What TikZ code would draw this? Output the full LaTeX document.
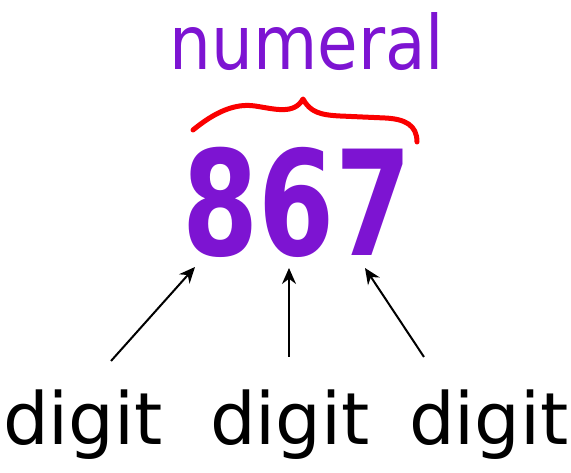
\documentclass[tikz,border=0pt]{standalone}
\usepackage{fontspec}
\setmainfont{DejaVu Sans}
\usetikzlibrary{arrows.meta,positioning}
\definecolor{numpurple}{RGB}{125,20,210}
\definecolor{bracered}{RGB}{250,0,0}

\begin{document}
\begin{tikzpicture}[
    x=1pt, y=1pt,
    word/.style={font=\fontsize{72}{80}\selectfont, inner sep=0pt, anchor=base},
    title/.style={font=\fontsize{75}{80}\selectfont, text=numpurple, inner sep=0pt, anchor=base, xscale=0.88, transform shape},
    number/.style={font=\fontsize{146}{150}\selectfont\bfseries, text=numpurple, inner sep=0pt, anchor=base, xscale=0.75, transform shape},
    arrow/.style={line width=2pt, -{Stealth[length=16pt, width=14pt]}},
    brace/.style={draw=bracered, line width=5pt, line cap=round, line join=round}
]
\useasboundingbox (0,0) rectangle (571,473);

% Numeral and its digits
\node[title] (numeral) at (307,403) {numeral};
\node[number] (num) at (297,217) {867};

% Brace over the number
\draw[brace] (193,343) .. controls (215,361) and (235,370) .. (255,367)
    .. controls (275,364) and (294,358) .. (303,374)
    .. controls (310,361) and (320,358) .. (340,357) -- (385,355)
    .. controls (405,354) and (417,348) .. (417,331);

% Labels
\node[word] (digitA) at (83,28) {digit};
\node[word] (digitB) at (290,28) {digit};
\node[word] (digitC) at (489,28) {digit};

% Arrow ends
\coordinate (tailA) at (111,112);
\coordinate (tailB) at (289,116);
\coordinate (tailC) at (424,116);
\coordinate (headA) at (195,206);
\coordinate (headB) at (289,205);
\coordinate (headC) at (365,205);

% Arrows
\draw[arrow] (tailA) -- (headA);
\draw[arrow] (tailB) -- (headB);
\draw[arrow] (tailC) -- (headC);

\end{tikzpicture}
\end{document}
